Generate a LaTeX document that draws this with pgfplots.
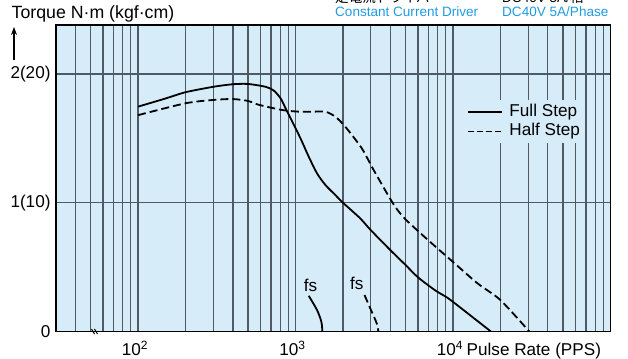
\documentclass[border=0pt]{standalone}
\usepackage{fontspec}
\setmainfont{Liberation Sans}
\newfontfamily\jpfont{Noto Sans CJK JP}
\usepackage{pgfplots}
\pgfplotsset{compat=1.18}
\usetikzlibrary{arrows.meta}
\definecolor{bgblue}{RGB}{214,236,249}
\definecolor{gridc}{RGB}{80,90,100}
\definecolor{cyantext}{RGB}{30,155,225}
\newcommand{\mainfs}{\fontsize{17.2}{20}\selectfont}
\newcommand{\titlefs}{\fontsize{17.8}{20}\selectfont}
\newcommand{\smallfs}{\fontsize{13.6}{16}\selectfont}
\begin{document}
\begin{tikzpicture}[x=1bp,y=1bp]
\path[use as bounding box] (0,0) rectangle (628,358);
\begin{axis}[
  at={(55.7bp,26.5bp)}, anchor=south west,
  scale only axis, width=554.8bp, height=306.5bp,
  xmode=log, xmin=30, xmax=100000, ymin=0, ymax=2.38,
  axis background/.style={fill=bgblue},
  axis line style={black, line width=1.6bp},
  xtick={100,1000,10000},
  xticklabels={10\textsuperscript{2},10\textsuperscript{3},10\textsuperscript{4}},
  minor xtick={40,50,60,70,80,90,200,300,400,500,600,700,800,900,2000,3000,4000,5000,6000,7000,8000,9000,20000,30000,40000,50000,60000,70000,80000,90000},
  ytick={0,1,2}, yticklabels={0,1(10),2(20)},
  xmajorgrids, xminorgrids, ymajorgrids,
  major grid style={gridc, line width=1.3bp},
  minor grid style={gridc, line width=1.3bp},
  major tick length=0pt, minor tick length=0pt,
  tick label style={font=\mainfs},
  xticklabel style={anchor=base, yshift=-23.8bp, xshift=-3bp, inner sep=0pt},
  yticklabel style={anchor=east, xshift=-5bp, inner sep=0pt},
  legend image code/.code={\draw[#1] (0bp,0bp) -- (34bp,0bp);},
  legend style={at={(0.7377,0.7553)}, anchor=north west, draw=none, fill=bgblue,
    font=\mainfs, inner sep=2bp, row sep=0pt, column sep=5bp,
    nodes={inner sep=1.5bp, text height=12.5bp, text depth=4bp}},
  legend cell align=left,
]
\addlegendimage{black, line width=1.8bp}
\addlegendimage{black, line width=1.8bp, dash pattern=on 6bp off 3bp}
\legend{Full Step, Half Step}
% Full step
\addplot[black, line width=1.8bp, smooth, tension=0.45, forget plot] coordinates {
(100,1.746) (150,1.81) (200,1.858) (300,1.90) (400,1.92) (500,1.922) (647,1.90)
(729,1.87) (804,1.81) (865,1.733) (952,1.63) (1075,1.50) (1213,1.357) (1369,1.228)
(1547,1.138) (1789,1.06) (2000,1.0) (2572,0.879) (3000,0.788) (4000,0.632)
(5000,0.516) (6000,0.42) (7700,0.32) (9000,0.27) (10000,0.23) (17400,0)};
% Half step
\addplot[black, line width=1.8bp, dash pattern=on 8bp off 4bp, smooth, tension=0.45, forget plot] coordinates {
(100,1.68) (200,1.772) (300,1.798) (400,1.805) (500,1.79) (586,1.76) (823,1.72)
(1049,1.707) (1300,1.707) (1547,1.707) (1789,1.668) (2070,1.59) (2634,1.423)
(3048,1.28) (3700,1.099) (4290,0.969) (5000,0.87) (7000,0.706) (10000,0.54)
(14300,0.374) (20000,0.244) (30500,0)};
% fs curves
\addplot[black, line width=1.8bp, smooth, forget plot] coordinates {
(1213,0.277) (1370,0.166) (1459,0.075) (1480,0)};
\addplot[black, line width=1.8bp, dash pattern=on 8bp off 4bp, smooth, forget plot] coordinates {
(2741,0.283) (3048,0.153) (3278,0.063) (3357,0)};
\node[font=\mainfs] at (axis cs:1244,0.36) {fs};
\node[font=\mainfs] at (axis cs:2449,0.37) {fs};
\end{axis}
% break mark
\draw[black, line width=1bp] (91.5,29) -- (94.5,24);
\draw[black, line width=1bp] (94.5,29) -- (97.5,24);
% titles
\node[anchor=base west, font=\titlefs, inner sep=0pt] at (11.5,339.7) {Torque N·m (kgf·cm)};
\draw[black, line width=1.3bp, -{Stealth[length=8bp,width=6bp]}] (14,298) -- (14,331);
\node[anchor=base west, font=\mainfs, inner sep=0pt] at (466.5,2.7) {Pulse Rate (PPS)};
\node[anchor=base west, font=\smallfs, text=cyantext, inner sep=0pt] at (335,342) {Constant Current Driver};
\node[anchor=base west, font=\smallfs, text=cyantext, inner sep=0pt] at (502,342) {DC40V 5A/Phase};
\node[anchor=base west, font=\smallfs\jpfont, inner sep=0pt] at (335,355.5) {定電流ドライバ};
\node[anchor=base west, font=\smallfs, inner sep=0pt] at (502,355.5) {DC40V 5A/{\jpfont 相}};
\end{tikzpicture}
\end{document}
